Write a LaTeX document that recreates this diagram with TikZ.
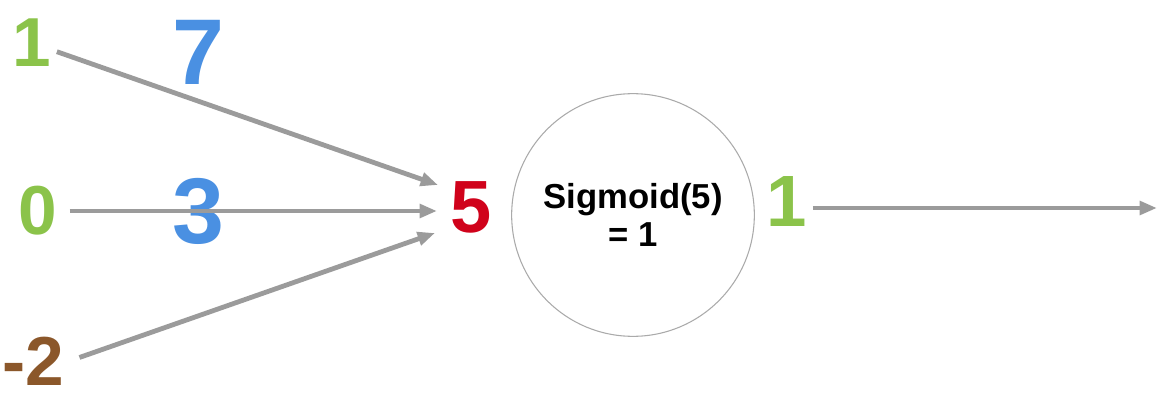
\documentclass[tikz,border=0pt]{standalone}
\usepackage{fontspec}
\setmainfont{Liberation Sans}
\usetikzlibrary{arrows.meta}
\definecolor{inputgreen}{RGB}{139,195,74}
\definecolor{weightblue}{RGB}{74,144,226}
\definecolor{inputbrown}{RGB}{139,87,42}
\definecolor{sumred}{RGB}{208,2,27}
\definecolor{linegray}{RGB}{155,155,155}
\definecolor{circlegray}{RGB}{170,170,170}

\begin{document}
\begin{tikzpicture}[
    x=0.75pt, y=-0.75pt,
    digit/.style={inner sep=4pt, font=\fontsize{52}{52}\selectfont\bfseries},
    weight/.style={inner sep=0pt, text=weightblue, font=\fontsize{70}{70}\selectfont\bfseries},
    arrow/.style={-{Triangle[length=13pt,width=10pt]}, line width=3.6pt, draw=linegray},
    neuron/.style={circle, draw=circlegray, line width=0.8pt, minimum size=182pt, align=center, font=\fontsize{26}{29}\selectfont\bfseries}
]
\useasboundingbox (0,0) rectangle (1157,403);

% inputs and weights
\node[digit, text=inputgreen] (in1) at (32,43) {1};
\node[digit, text=inputgreen] (in2) at (38,211) {0};
\node[digit, text=inputbrown] (in3) at (33,361) {-2};
\node[weight] (w1) at (198,52) {7};
\node[weight] (w2) at (198,211) {3};

% weighted sum and activation
\node[digit, text=sumred, font=\fontsize{55.5}{56}\selectfont\bfseries] (sum) at (471,207) {5};
\node[neuron] (neuron) at (633,215) {Sigmoid(5)\\= 1};
\node[digit, text=inputgreen, font=\fontsize{54.5}{55}\selectfont\bfseries] (out) at (787,202) {1};

\coordinate (tip1) at (438,185);
\coordinate (tip2) at (437,211);
\coordinate (tip3) at (435,233);
\coordinate (outend) at (1157,208);

\draw[arrow] (in1) -- (tip1);
\draw[arrow, shorten <=5pt] (in2) -- (tip2);
\draw[arrow, shorten <=8pt] (in3.east) -- (tip3);
\draw[arrow] (out.east |- outend) -- (outend);
\end{tikzpicture}
\end{document}
